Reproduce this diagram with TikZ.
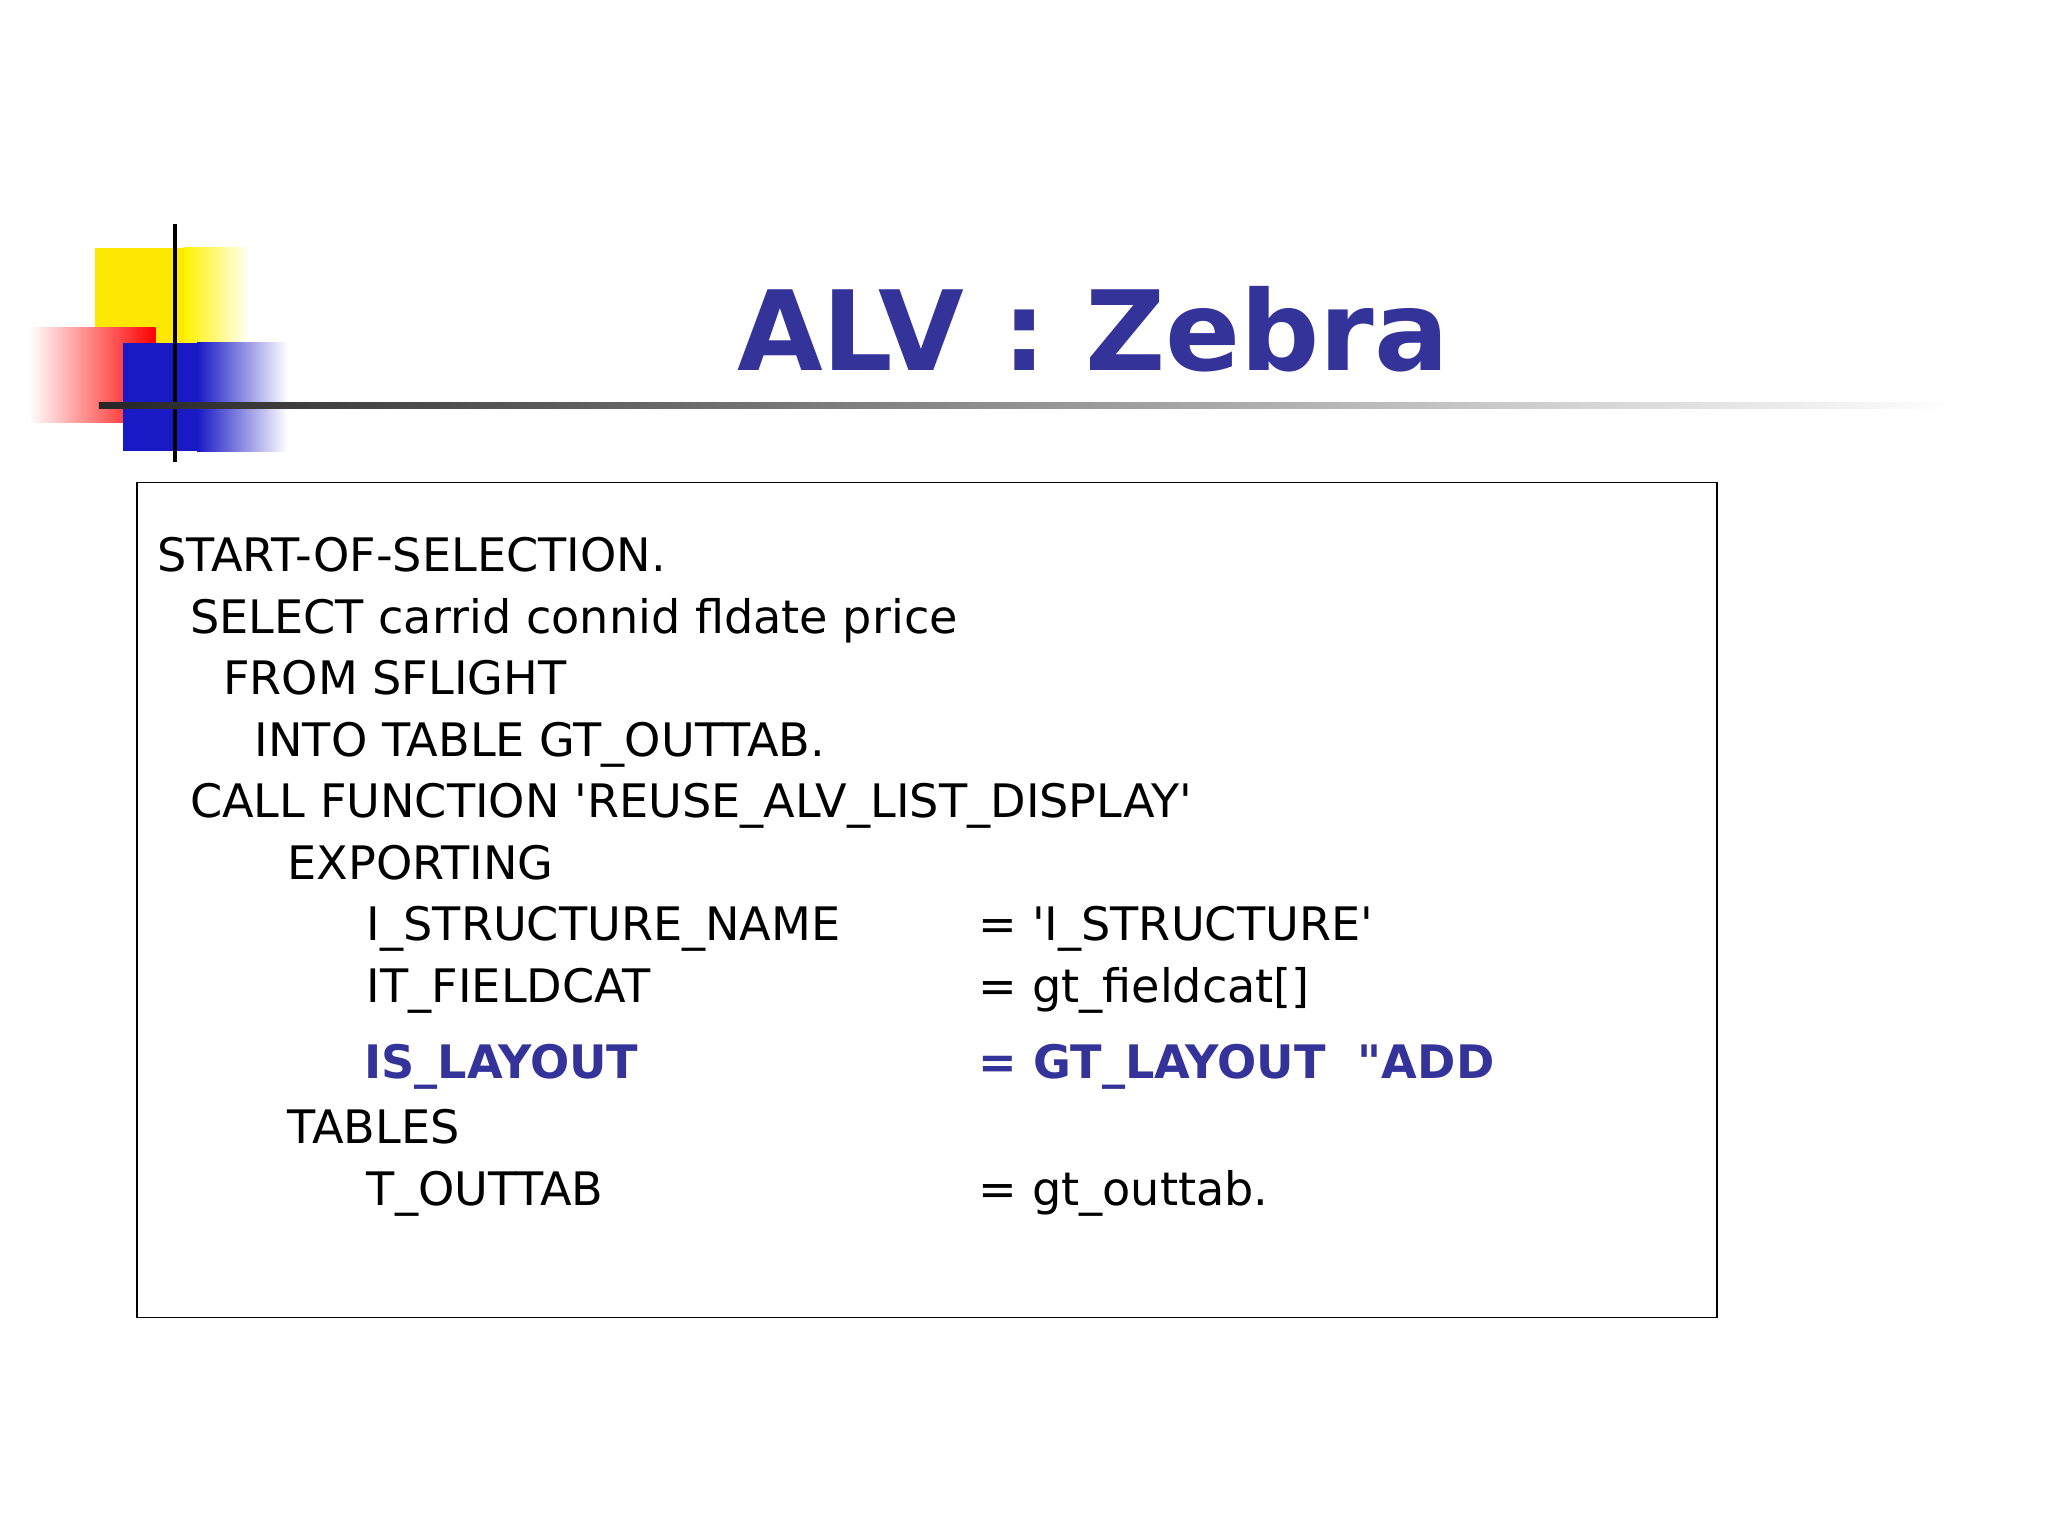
\documentclass[tikz,border=0pt]{standalone}
\usepackage{fontspec}
\setmainfont{DejaVu Sans}
\definecolor{navy}{HTML}{333399}
\begin{document}
\begin{tikzpicture}[x=1pt,y=-1pt,
  code/.style={anchor=base west,inner sep=0pt,font=\fontsize{35}{35}\selectfont},
  bcode/.style={code,font=\fontsize{35}{35}\selectfont\bfseries,text=navy}]
\useasboundingbox[fill=white] (0,0) rectangle (1553,1165);
% decoration
\fill[yellow!90!orange] (72,188) rectangle (140,300);
\shade[left color=yellow!90!orange,right color=white] (139.5,188) rectangle (190,300);
\shade[left color=white,right color=red] (22,248) rectangle (118,320);
\fill[blue!75!black!90] (93,260) rectangle (150,342);
\shade[left color=blue!75!black!90,right color=white] (149.5,260) rectangle (218,342);
\draw[line width=3pt] (133,170) -- (133,350);
\shade[left color=black!85,right color=white] (75,305) rectangle (1480,310);
\node[anchor=base,inner sep=0pt,text=navy,font=\fontsize{84}{84}\selectfont\bfseries] (title) at (829,281) {ALV : Zebra};
% box
\draw[line width=1pt] (104,366) rectangle (1302,999);
\node[code] (l1) at (119,433) {START-OF-SELECTION.};
\node[code] (l2) at (144,480) {SELECT carrid connid fldate price};
\node[code] (l3) at (169,527) {FROM SFLIGHT};
\node[code] (l4) at (193,574) {INTO TABLE GT\_OUTTAB.};
\node[code] (l5) at (144,620) {CALL FUNCTION \textquotesingle REUSE\_ALV\_LIST\_DISPLAY\textquotesingle};
\node[code] (l6) at (218,667) {EXPORTING};
\node[code] (l7) at (278,713) {I\_STRUCTURE\_NAME};
\node[code] (r7) at (742,713) {= \textquotesingle I\_STRUCTURE\textquotesingle};
\node[code] (l8) at (278,760) {IT\_FIELDCAT};
\node[code] (r8) at (742,760) {= gt\_fieldcat[]};
\node[bcode] (l9) at (276,818) {IS\_LAYOUT};
\node[bcode] (r9) at (742,818) {= GT\_LAYOUT~~\textquotedbl ADD};
\node[code] (l10) at (218,867) {TABLES};
\node[code] (l11) at (278,914) {T\_OUTTAB};
\node[code] (r11) at (742,914) {= gt\_outtab.};
\end{tikzpicture}
\end{document}
